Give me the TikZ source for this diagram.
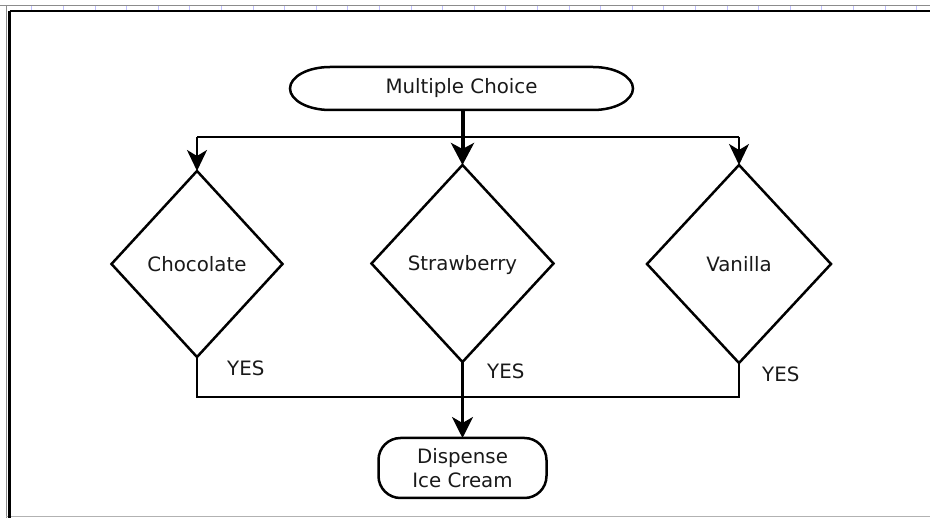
\documentclass[tikz,border=0pt]{standalone}
\usepackage{fontspec}
\setmainfont{DejaVu Sans}
\usetikzlibrary{shapes.geometric, arrows.meta}

\tikzset{
  label font/.style={font=\fontsize{19.8}{24}\selectfont, text=black!90},
  terminal/.style={label font, draw=none, inner sep=0pt, outer sep=0pt},
  choice/.style={label font, diamond, draw, line width=2.5pt, inner sep=0pt, outer sep=0pt, text height=14.5pt, text depth=0pt},
  ends/.style={draw, line width=2.5pt, rounded corners=22pt, align=center, label font, inner sep=0pt, outer sep=0pt},
  outline/.style={line width=2.5pt},
  wire/.style={line width=2.3pt},
  flow/.style={line width=3pt, -{Stealth[length=21pt, width=21pt, inset=6pt]}},
  branch/.style={line width=2.3pt, -{Stealth[length=21pt, width=20pt, inset=6pt]}},
  answer/.style={label font, anchor=west, inner sep=0pt},
}

\begin{document}
\begin{tikzpicture}[x=1pt, y=-1pt]
  \useasboundingbox (0,0) rectangle (930,518);

  % page frame
  \draw[black!45, line width=1pt] (0,5.5) -- (930,5.5);
  \draw[black!45, line width=1pt] (6,5.5) -- (6,518);
  \draw[black!30, line width=1pt] (6,517) -- (930,517);
  \draw[line width=2.6pt] (9.5,11) -- (930,11);
  \draw[line width=2.6pt] (9.5,11) -- (9.5,518);
  \foreach \t in {1,...,29}
    \draw[blue!25, line width=0.6pt] (31.6*\t,6.5) -- (31.6*\t,10);

  % start terminal with elliptical ends
  \node[terminal, minimum width=343pt, minimum height=43pt] (mc) at (461.5,88.5) {Multiple Choice};
  \draw[outline] ([xshift=40pt]mc.north west) -- ([xshift=-40pt]mc.north east)
    arc[start angle=90, end angle=-90, x radius=40pt, y radius=21.5pt]
    -- ([xshift=40pt]mc.south west)
    arc[start angle=270, end angle=90, x radius=40pt, y radius=21.5pt] -- cycle;

  % decisions
  \node[choice, minimum width=171pt, minimum height=186pt] (choc) at (197,264) {Chocolate};
  \node[choice, minimum width=182pt, minimum height=197pt] (straw) at (462.5,263.5) {Strawberry};
  \node[choice, minimum width=184pt, minimum height=198pt] (van) at (739,264) {Vanilla};

  % end terminal
  \node[ends, minimum width=168pt, minimum height=60pt] (disp) at (462.5,468) {Dispense\\Ice Cream};

  % fan-out from the start
  \coordinate (split) at (462.5,137);
  \draw[wire] (choc.north |- split) -- (van.north |- split);
  \draw[branch] (choc.north |- split) -- (choc.north);
  \draw[branch] (van.north |- split) -- (van.north);
  \draw[line width=4pt, -{Stealth[length=22pt, width=23pt, inset=6pt]}] (mc.south -| straw.north) -- (straw.north);

  % merge of the YES exits
  \coordinate (merge) at (462.5,397);
  \draw[wire] (choc.south) -- (choc.south |- merge) -- (van.south |- merge) -- (van.south);
  \draw[flow] (straw.south) -- (disp.north);

  % exit labels
  \node[answer] (yes1) at (227,368) {YES};
  \node[answer] (yes2) at (487,371) {YES};
  \node[answer] (yes3) at (762,374) {YES};
\end{tikzpicture}
\end{document}
